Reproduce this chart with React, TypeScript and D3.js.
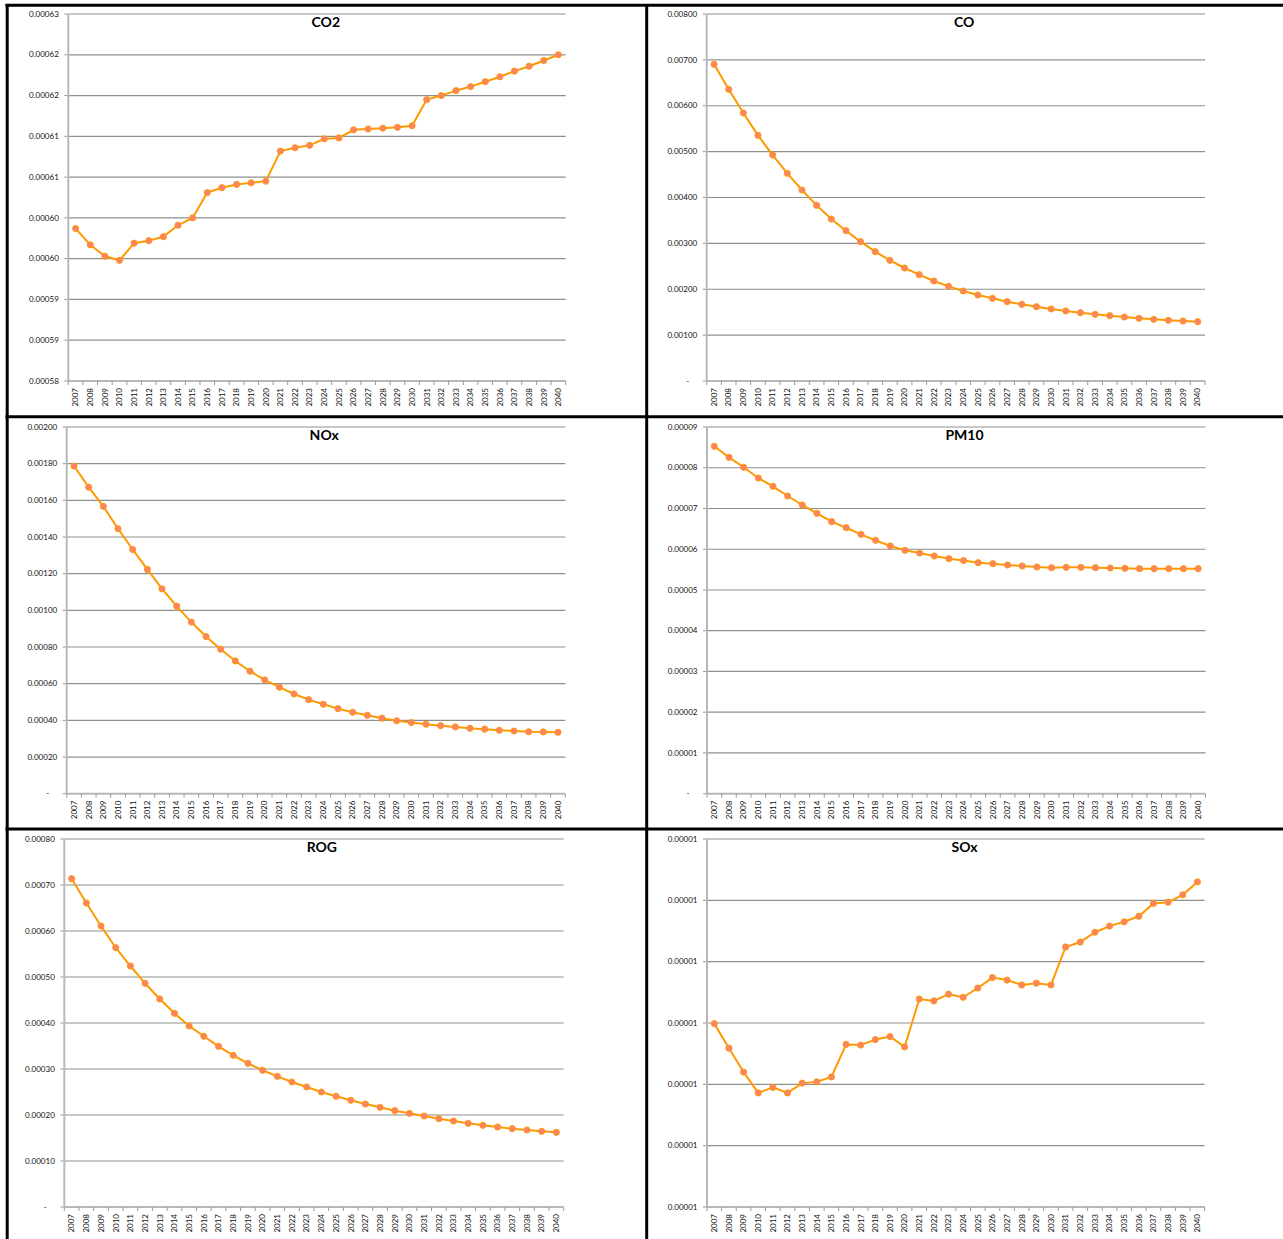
import * as d3 from "d3"

// emission factors by year
const years = [
  "2007", "2008", "2009", "2010", "2011", "2012", "2013", "2014", "2015", "2016", "2017", "2018",
  "2019", "2020", "2021", "2022", "2023", "2024", "2025", "2026", "2027", "2028", "2029", "2030",
  "2031", "2032", "2033", "2034", "2035", "2036", "2037", "2038", "2039", "2040",
]

const co2 = [
  0.0005987, 0.0005967, 0.0005953, 0.0005948, 0.0005969, 0.0005972, 0.0005977, 0.0005991, 0.0006,
  0.0006031, 0.0006037, 0.0006041, 0.0006043, 0.0006045, 0.0006082, 0.0006086, 0.0006089, 0.0006097,
  0.0006098, 0.0006108, 0.0006109, 0.000611, 0.0006111, 0.0006113, 0.0006145, 0.000615, 0.0006156,
  0.0006161, 0.0006167, 0.0006173, 0.000618, 0.0006186, 0.0006193, 0.00062,
]
const co = [
  0.006903, 0.006358, 0.005842, 0.005355, 0.004926, 0.004527, 0.004163, 0.003829, 0.003531, 0.003277,
  0.003037, 0.002819, 0.00263, 0.002463, 0.002318, 0.00218, 0.002063, 0.001962, 0.001875, 0.001802,
  0.001729, 0.001671, 0.00162, 0.00157, 0.001526, 0.001489, 0.001453, 0.001424, 0.001395, 0.001366,
  0.001344, 0.001323, 0.001308, 0.001293,
]
const nox = [
  0.001787, 0.001672, 0.001567, 0.001445, 0.001332, 0.001223, 0.001117, 0.001023, 0.000936, 0.000857,
  0.000788, 0.000724, 0.000668, 0.000621, 0.000581, 0.000544, 0.000513, 0.000488, 0.000464, 0.000444,
  0.000428, 0.000412, 0.000398, 0.000388, 0.000379, 0.000371, 0.000364, 0.000357, 0.000352, 0.000346,
  0.000342, 0.000338, 0.000337, 0.000335,
]
const pm10 = [
  0.00008526, 0.00008256, 0.00008011, 0.00007748, 0.00007544, 0.00007306, 0.00007086, 0.00006882,
  0.00006676, 0.00006528, 0.00006366, 0.00006219, 0.0000608, 0.00005974, 0.00005908, 0.00005834,
  0.00005768, 0.00005724, 0.0000567, 0.00005645, 0.00005613, 0.00005589, 0.00005564, 0.00005547,
  0.00005556, 0.00005556, 0.00005547, 0.0000554, 0.00005532, 0.00005522, 0.00005522, 0.00005522,
  0.00005522, 0.00005522,
]
const rog = [
  0.0007137, 0.0006609, 0.0006109, 0.0005637, 0.0005239, 0.0004863, 0.0004522, 0.0004211, 0.0003935,
  0.0003711, 0.0003493, 0.0003298, 0.0003124, 0.0002972, 0.0002841, 0.0002717, 0.0002609, 0.00025,
  0.0002407, 0.000232, 0.0002239, 0.0002167, 0.0002094, 0.0002036, 0.0001978, 0.000192, 0.000187,
  0.0001819, 0.0001775, 0.0001739, 0.0001703, 0.0001674, 0.0001645, 0.0001623,
]
const sox = [
  0.00001099, 0.00001059, 0.0000102, 0.00000986, 0.00000995, 0.00000986, 0.00001002, 0.00001004,
  0.00001012, 0.00001065, 0.00001064, 0.00001073, 0.00001078, 0.00001061, 0.00001139, 0.00001136,
  0.00001147, 0.00001142, 0.00001157, 0.00001174, 0.0000117, 0.00001162, 0.00001165, 0.00001162,
  0.00001224, 0.00001232, 0.00001248, 0.00001258, 0.00001265, 0.00001274, 0.00001295, 0.00001297,
  0.00001309, 0.0000133,
]

// y tick labels, bottom to top (Excel rounds to 5 decimals)
const co2Ticks = ["0.00058", "0.00059", "0.00059", "0.00060", "0.00060", "0.00061", "0.00061", "0.00062", "0.00062", "0.00063"]
const coTicks = ["-", "0.00100", "0.00200", "0.00300", "0.00400", "0.00500", "0.00600", "0.00700", "0.00800"]
const noxTicks = ["-", "0.00020", "0.00040", "0.00060", "0.00080", "0.00100", "0.00120", "0.00140", "0.00160", "0.00180", "0.00200"]
const pm10Ticks = ["-", "0.00001", "0.00002", "0.00003", "0.00004", "0.00005", "0.00006", "0.00007", "0.00008", "0.00009"]
const rogTicks = ["-", "0.00010", "0.00020", "0.00030", "0.00040", "0.00050", "0.00060", "0.00070", "0.00080"]
const soxTicks = ["0.00001", "0.00001", "0.00001", "0.00001", "0.00001", "0.00001", "0.00001"]

const panels = [
  { title: "CO2", values: co2, ticks: co2Ticks, domain: [0.00058, 0.000625], box: { left: 68.3, right: 565.7, top: 14, bottom: 381 } },
  { title: "CO", values: co, ticks: coTicks, domain: [0, 0.008], box: { left: 706.7, right: 1205, top: 14, bottom: 381 } },
  { title: "NOx", values: nox, ticks: noxTicks, domain: [0, 0.002], box: { left: 66.7, right: 565.3, top: 427, bottom: 793.7 } },
  { title: "PM10", values: pm10, ticks: pm10Ticks, domain: [0, 0.00009], box: { left: 707, right: 1205.5, top: 427, bottom: 793.7 } },
  { title: "ROG", values: rog, ticks: rogTicks, domain: [0, 0.0008], box: { left: 64.3, right: 563.7, top: 839, bottom: 1207 } },
  { title: "SOx", values: sox, ticks: soxTicks, domain: [0.000008, 0.000014], box: { left: 707, right: 1204.7, top: 839, bottom: 1207 } },
]

const font = "Lato, 'Open Sans', sans-serif"
const lineColor = "#ff9900"
const dotFill = "#fb8468"

function Panel({ title, values, ticks, domain, box }: any) {
  const x = d3.scaleBand<string>().domain(years).range([box.left, box.right])
  const y = d3.scaleLinear().domain(domain).range([box.bottom, box.top])
  const step = (domain[1] - domain[0]) / (ticks.length - 1)
  const tickVals = ticks.map((_: string, i: number) => domain[0] + i * step)
  const cx = (yr: string) => (x(yr) as number) + x.bandwidth() / 2

  const line = d3
    .line<number>()
    .x((_, i) => cx(years[i]))
    .y((d) => y(d))

  return (
    <g>
      {/* gridlines */}
      {tickVals.slice(1).map((v: number, i: number) => (
        <line key={"g" + i} x1={box.left} x2={box.right} y1={y(v)} y2={y(v)} stroke="#8f8f8f" strokeWidth={1.2} />
      ))}
      {/* y ticks + labels */}
      {tickVals.map((v: number, i: number) => (
        <g key={"t" + i}>
          <line x1={box.left - 4} x2={box.left} y1={y(v)} y2={y(v)} stroke="#9a9a9a" strokeWidth={1} />
          <text
            x={box.left - 9.5 - (ticks[i] === "-" ? 8 : 0)}
            y={y(v)}
            dy="0.33em"
            textAnchor="end"
            fontSize={8}
            fontFamily={font}
            fill="#111"
          >
            {ticks[i]}
          </text>
        </g>
      ))}
      {/* axes */}
      <line x1={box.left} x2={box.left} y1={box.top} y2={box.bottom} stroke="#b8b8b8" strokeWidth={2} />
      <line x1={box.left} x2={box.right} y1={box.bottom} y2={box.bottom} stroke="#b8b8b8" strokeWidth={2} />
      {years.map((yr) => (
        <line key={"xt" + yr} x1={x(yr)} x2={x(yr)} y1={box.bottom} y2={box.bottom + 4} stroke="#9a9a9a" strokeWidth={1} />
      ))}
      <line x1={box.right} x2={box.right} y1={box.bottom} y2={box.bottom + 4} stroke="#9a9a9a" strokeWidth={1} />
      {years.map((yr) => (
        <text
          key={"xl" + yr}
          transform={`translate(${cx(yr)},${box.bottom + 7}) rotate(-90)`}
          dy="0.35em"
          textAnchor="end"
          fontSize={8}
          fontFamily={font}
          fill="#111"
        >
          {yr}
        </text>
      ))}
      {/* series */}
      <path d={line(values) || ""} fill="none" stroke={lineColor} strokeWidth={2} />
      {values.map((v: number, i: number) => (
        <circle key={"c" + i} cx={cx(years[i])} cy={y(v)} r={3.1} fill={dotFill} stroke={lineColor} strokeWidth={0.9} />
      ))}
      <text x={box.left + 257.5} y={box.top + 12.7} textAnchor="middle" fontSize={14} fontWeight="bold" fontFamily={font} fill="#000">
        {title}
      </text>
    </g>
  )
}

export default function App() {
  return (
    <svg width={1283} height={1239} style={{ position: "absolute", left: 0, top: 0, background: "#fff" }}>
      <rect x={0} y={0} width={1283} height={1239} fill="#fff" />
      {panels.map((p) => (
        <Panel key={p.title} {...p} />
      ))}
      {/* table frame */}
      <g stroke="#000" strokeWidth={3}>
        <line x1={5.5} x2={1283} y1={5.3} y2={5.3} />
        <line x1={7.2} x2={7.2} y1={4} y2={1239} />
        <line x1={646.7} x2={646.7} y1={4} y2={1239} />
        <line x1={5.5} x2={1283} y1={416.7} y2={416.7} />
        <line x1={5.5} x2={1283} y1={829} y2={829} />
      </g>
    </svg>
  )
}
